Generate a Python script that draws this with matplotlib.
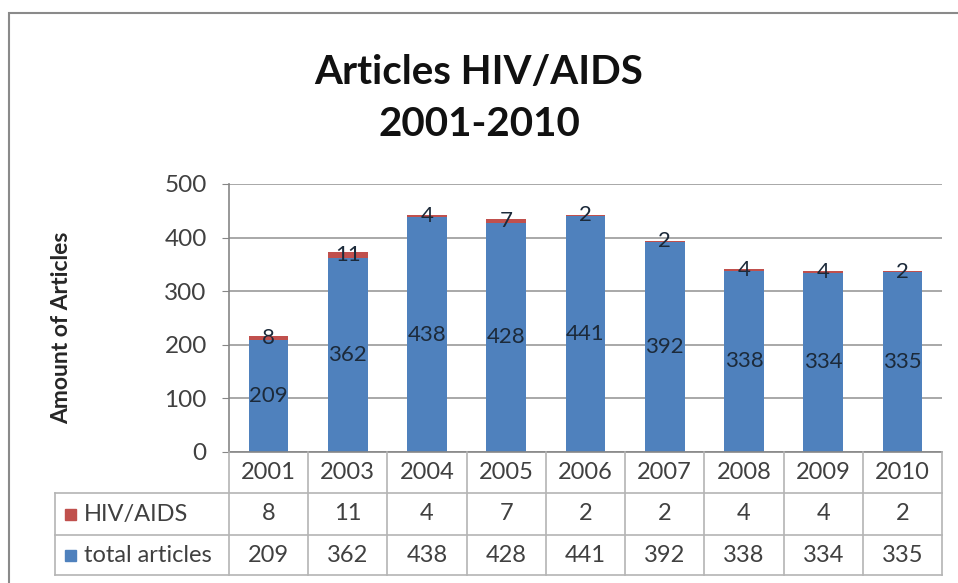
import matplotlib
matplotlib.use("Agg")
import matplotlib.pyplot as plt
from matplotlib.transforms import blended_transform_factory
from matplotlib.patches import Rectangle

plt.rcParams['font.family'] = ['Lato', 'DejaVu Sans']

years = ["2001", "2003", "2004", "2005", "2006", "2007", "2008", "2009", "2010"]
total_articles = [209, 362, 438, 428, 441, 392, 338, 334, 335]
hiv_aids = [8, 11, 4, 7, 2, 2, 4, 4, 2]
series_names = ["HIV/AIDS", "total articles"]
title_text = "Articles HIV/AIDS\n2001-2010"
ylabel_text = "Amount of Articles"
yticks = [0, 100, 200, 300, 400, 500]

BLUE = "#4F81BD"
RED = "#C0504D"
GRID = "#9a9a9a"
TABLE_LINE = "#b4b4b4"
TEXT = "#404040"
LABEL = "#1c2a3a"

W, H = 958, 583
fig = plt.figure(figsize=(W / 100, H / 100), dpi=100)

def fy(py):
    return (H - py) / H

def fx(px):
    return px / W

# chart border
fig.patches.append(Rectangle((fx(9), fy(600)), fx(960) - fx(9), fy(13) - fy(600),
                             transform=fig.transFigure, fill=False,
                             edgecolor="#8a8a8a", linewidth=1.5))

ax_left, ax_right, ax_top, ax_bottom = 229, 942, 184, 452
ax = fig.add_axes([fx(ax_left), fy(ax_bottom), fx(ax_right) - fx(ax_left), fy(ax_top) - fy(ax_bottom)])

x = list(range(len(years)))
ax.bar(x, total_articles, width=0.5, color=BLUE, zorder=3)
ax.bar(x, hiv_aids, width=0.5, bottom=total_articles, color=RED, zorder=3)

for i in x:
    ax.text(i, total_articles[i] / 2, str(total_articles[i]), ha="center", va="center",
            fontsize=16, color=LABEL, zorder=4)
    ax.text(i, total_articles[i] + hiv_aids[i] / 2, str(hiv_aids[i]), ha="center", va="center",
            fontsize=16, color=LABEL, zorder=4)

ax.set_xlim(-0.5, len(years) - 0.5)
ax.set_ylim(0, 500)
ax.set_yticks(yticks)
ax.set_yticklabels([str(v) for v in yticks], fontsize=17.5, color=TEXT)
ax.tick_params(axis="y", length=5, color="#868686", pad=11)
ax.set_xticks([])
ax.grid(axis="y", color=GRID, linewidth=1.2, zorder=0)
for s in ["top", "right", "bottom"]:
    ax.spines[s].set_visible(False)
ax.spines["left"].set_color("#868686")
ax.spines["left"].set_linewidth(1.2)

ax.set_ylabel(ylabel_text, fontsize=16.5, fontweight="bold", color="#262626")
ax.yaxis.set_label_coords((72 - ax_left) / (ax_right - ax_left),
                          (ax_bottom - 328) / (ax_bottom - ax_top))

# title
fig.text(0.5, fy(99), title_text, ha="center", va="center", fontsize=29,
         fontweight="bold", color="#111111", linespacing=1.5)

# data table
trans = blended_transform_factory(ax.transData, fig.transFigure)
row_edges = [452, 493, 535, 575]
tab_left_px = 55

fig.add_artist(plt.Line2D([fx(ax_left), fx(ax_right)], [fy(452), fy(452)],
                          transform=fig.transFigure, color="#868686", linewidth=1.2))
for yy in row_edges[1:]:
    fig.add_artist(plt.Line2D([fx(tab_left_px), fx(ax_right)], [fy(yy), fy(yy)],
                              transform=fig.transFigure, color=TABLE_LINE, linewidth=1.2))
for k in range(len(years) + 1):
    xb = k - 0.5
    fig.add_artist(plt.Line2D([xb, xb], [fy(452), fy(575)], transform=trans,
                              color=TABLE_LINE, linewidth=1.2))
fig.add_artist(plt.Line2D([fx(tab_left_px), fx(tab_left_px)], [fy(493), fy(575)],
                          transform=fig.transFigure, color=TABLE_LINE, linewidth=1.2))

rows = [years, [str(v) for v in hiv_aids], [str(v) for v in total_articles]]
for r, vals in enumerate(rows):
    yc = fy((row_edges[r] + row_edges[r + 1]) / 2)
    for i, v in enumerate(vals):
        fig.text(i, yc, v, transform=trans, ha="center", va="center", fontsize=17, color=TEXT)

for r, (name, col) in enumerate(zip(series_names, [RED, BLUE])):
    yc = fy((row_edges[r + 1] + row_edges[r + 2]) / 2)
    fig.patches.append(Rectangle((fx(65), yc - 5.5 / H), 11 / W, 11 / H,
                                 transform=fig.transFigure, color=col))
    fig.text(fx(84), yc, name, ha="left", va="center", fontsize=17, color=TEXT)

fig.savefig("out.png", dpi=100, facecolor="white")
